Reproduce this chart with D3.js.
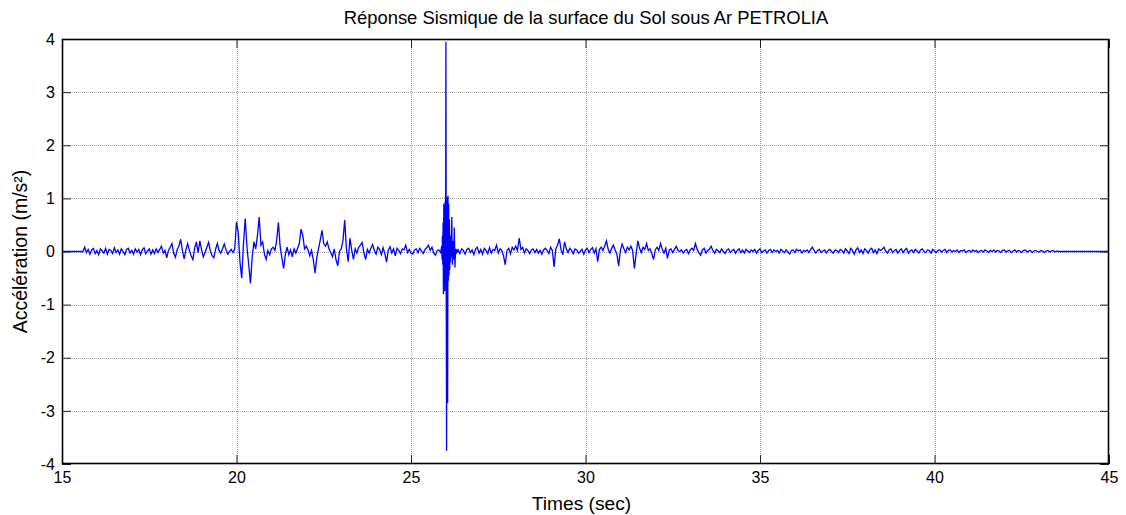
<!DOCTYPE html>
<html>
<head>
<meta charset="utf-8">
<script src="https://cdn.jsdelivr.net/npm/d3@7/dist/d3.min.js"></script>
<style>
  html, body { margin: 0; padding: 0; background: #fff; }
  svg { display: block; font-family: "Liberation Sans", Arial, sans-serif; }
</style>
</head>
<body>
<svg id="chart" width="1126" height="515"></svg>
<script>
// Ground-surface acceleration record (m/s²)
const timeDomain = [15, 45];
const accelDomain = [-4, 4];
const timeTicks = [15, 20, 25, 30, 35, 40, 45];
const accelTicks = [-4, -3, -2, -1, 0, 1, 2, 3, 4];

// record before the main pulse: starts at 15.60 s, step 0.05 s
const preStart = 15.6, preStep = 0.05;
const accelPre = [
  0.00, 0.08, -0.02, 0.04, -0.05, 0.03, 0.06, -0.04, 0.02, -0.06, 0.05, 0.01, -0.03, 0.06, -0.05, 0.04, 0.02, -0.04, 0.07, -0.02,
  0.03, -0.05, 0.05, 0.00, -0.06, 0.04, 0.06, -0.03, 0.02, -0.05, 0.05, -0.01, 0.04, -0.06, 0.03, 0.07, -0.04, 0.01, 0.05, -0.05,
  0.03, -0.04, 0.05, -0.02, 0.04, 0.10, -0.03, 0.02, -0.12, 0.02, 0.08, 0.15, -0.03, -0.11, 0.04, 0.10, 0.23, 0.02, -0.14, 0.03,
  0.15, 0.02, -0.08, -0.15, 0.06, 0.18, -0.02, 0.20, 0.03, -0.10, -0.02, 0.08, 0.17, 0.01, -0.08, -0.12, 0.04, 0.15, 0.02, -0.03,
  0.05, 0.14, 0.03, -0.05, 0.00, 0.04, -0.02, 0.05, 0.56, 0.35, -0.20, -0.50, 0.15, 0.62, 0.08, -0.25, -0.60, -0.10, 0.18, 0.05,
  0.30, 0.65, 0.12, 0.18, -0.05, -0.15, 0.02, -0.06, 0.05, 0.08, 0.02, 0.20, 0.55, 0.10, -0.12, -0.32, -0.05, 0.08, -0.06, 0.03,
  -0.10, 0.05, -0.03, 0.06, 0.15, 0.42, 0.30, 0.05, 0.10, 0.03, -0.08, 0.02, -0.15, -0.41, -0.12, 0.05, 0.22, 0.40, 0.15, 0.10,
  0.18, 0.05, -0.02, -0.10, 0.05, -0.15, -0.27, 0.00, 0.05, 0.20, 0.59, 0.05, -0.19, 0.25, 0.03, -0.15, 0.05, -0.03, 0.08, 0.12,
  0.17, -0.02, -0.15, 0.04, -0.03, 0.06, 0.13, 0.02, -0.05, 0.08, 0.04, -0.06, 0.07, -0.04, -0.20, 0.03, 0.09, -0.03, 0.05, -0.08,
  0.06, 0.02, -0.04, 0.05, 0.03, 0.12, -0.02, 0.04, -0.03, -0.05, 0.03, 0.05, -0.02, 0.06, 0.01, -0.04, 0.04, 0.07, 0.12, 0.02,
  0.08, -0.03, -0.07, 0.02, 0.03, -0.02
];

// main pulse: starts at 25.88 s, step 0.01 s
const burstStart = 25.88, burstStep = 0.01;
const accelBurst = [
  0.10, -0.15, 0.30, -0.25, 0.55, -0.80, 0.90, -0.60, 0.85, -0.75,
  0.95, -0.50, 3.95, -0.80, -3.75, 1.02, -0.70, -2.85, 1.05, -0.55,
  0.90, -0.45, 0.60, -0.35, 0.30, -0.20, 0.15, -0.10, 0.35, 0.65,
  -0.10, -0.25, 0.20, 0.10, -0.15, -0.05, 0.45, 0.10, -0.30, -0.10,
  0.05, -0.05, 0.03, 0.00, 0.04, -0.02, 0.02
];

// coda after the pulse: starts at 26.35 s, step 0.05 s
const postStart = 26.35, postStep = 0.05;
const accelPost = [
  0.03, -0.04, 0.05, 0.02, -0.05, 0.04, 0.06, -0.02, 0.03, -0.06, 0.05, 0.08, -0.03, 0.04, -0.05, 0.06, 0.02, -0.04, 0.07, -0.03,
  0.04, 0.02, 0.12, -0.03, 0.05, 0.02, -0.08, -0.25, 0.02, 0.06, -0.04, 0.08, 0.03, 0.10, 0.02, 0.25, 0.04, 0.08, -0.03, 0.05,
  0.02, -0.04, 0.03, 0.05, -0.02, 0.04, -0.03, 0.02, -0.05, 0.03, 0.06, 0.02, -0.04, 0.08, 0.02, -0.29, 0.05, 0.12, 0.24, 0.03,
  -0.06, 0.18, 0.05, -0.02, 0.06, 0.02, -0.04, 0.05, 0.03, -0.03, 0.00, 0.04, -0.05, 0.03, 0.06, -0.02, 0.04, 0.07, -0.03, 0.05,
  -0.19, 0.04, 0.08, 0.02, 0.10, 0.20, 0.04, -0.03, 0.06, 0.12, 0.03, -0.05, -0.27, 0.02, 0.14, 0.05, -0.02, 0.08, 0.03, 0.10,
  0.02, -0.32, -0.05, 0.20, 0.06, -0.02, 0.08, 0.04, 0.15, 0.02, 0.05, -0.04, -0.15, 0.03, 0.08, 0.02, 0.15, 0.04, -0.03, 0.06,
  -0.13, 0.03, 0.05, -0.02, 0.04, 0.10, 0.02, 0.00, 0.03, -0.03, 0.02, 0.04, -0.04, 0.03, 0.06, 0.02, 0.15, 0.04, -0.02, -0.07,
  0.03, 0.06, -0.03, 0.02, 0.04, 0.10, 0.02, -0.03, 0.04, 0.01, -0.02, 0.05, 0.00, -0.04, 0.03, 0.05, -0.02, 0.02, 0.04, -0.03,
  0.02, 0.05, -0.02, 0.03, -0.03, 0.04, 0.01, -0.02, 0.03, 0.00, 0.04, -0.03, 0.02, 0.05, -0.02, 0.01, 0.03, -0.03, 0.02, 0.04,
  -0.02, 0.03, 0.00, 0.02, -0.03, 0.04, 0.01, -0.02, 0.03, -0.01, -0.05, 0.02, 0.03, -0.02, 0.04, 0.01, 0.03, -0.03, 0.02, 0.00,
  0.03, -0.02, 0.04, 0.08, 0.02, -0.03, 0.02, 0.04, -0.02, 0.01, 0.03, -0.03, 0.02, 0.04, 0.00, -0.03, 0.03, 0.02, -0.02, 0.04,
  0.02, -0.03, 0.05, 0.01, -0.04, 0.06, 0.02, -0.05, 0.03, 0.07, -0.02, 0.03, -0.04, 0.05, 0.02, -0.03, 0.04, 0.06, -0.02, 0.03,
  -0.04, 0.05, 0.02, 0.04, 0.08, 0.01, -0.03, 0.03, 0.05, -0.02, 0.02, 0.04, -0.03, 0.02, 0.05, -0.02, 0.03, 0.06, -0.03, 0.01,
  0.03, -0.02, 0.04, 0.01, -0.03, 0.03, 0.05, 0.00, -0.02, 0.03, 0.02, -0.03, 0.04, 0.01, -0.02, 0.02, 0.03, -0.01, 0.02, 0.04,
  -0.02, 0.02, 0.03, -0.01, 0.02, 0.00, 0.03, -0.02, 0.02, 0.01, 0.03, -0.02, 0.01, 0.02, -0.01, 0.03, 0.00, 0.02, -0.02, 0.01,
  0.02, -0.01, 0.03, 0.01, -0.02, 0.02, 0.00, 0.03, -0.01, 0.02, 0.01, -0.02, 0.02, 0.03, -0.01, 0.01, 0.02, -0.02, 0.01, 0.03,
  -0.01, 0.02, 0.01, -0.02, 0.02, 0.03, -0.01, 0.01, 0.02, -0.02, 0.01, 0.02, 0.00, -0.01, 0.02, 0.01, -0.02, 0.01, 0.02, -0.01,
  0.01, 0.02, -0.01, 0.01, 0.00
];

const titleText = "Réponse Sismique de la surface du Sol sous Ar PETROLIA";
const xLabelText = "Times (sec)";
const yLabelText = "Accélération (m/s²)";

// assemble (time, acceleration) samples
const toPoints = (start, step, vals) => vals.map((a, i) => ({ t: start + i * step, a }));
const samples = [{ t: timeDomain[0], a: 0 }]
  .concat(toPoints(preStart, preStep, accelPre))
  .concat(toPoints(burstStart, burstStep, accelBurst))
  .concat(toPoints(postStart, postStep, accelPost));
const lastT = samples[samples.length - 1].t;
samples.push({ t: lastT + postStep, a: 0 }, { t: timeDomain[1], a: 0 });

// plot geometry
const box = { left: 62, right: 1109, top: 39, bottom: 464 };
const svg = d3.select("#chart");
const x = d3.scaleLinear().domain(timeDomain).range([box.left, box.right]);
const y = d3.scaleLinear().domain(accelDomain).range([box.bottom, box.top]);
const W = box.right - box.left, H = box.bottom - box.top;
const tickLen = 9;

// dotted grid
const grid = svg.append("g").attr("stroke", "#a0a0a0").attr("stroke-width", 1)
  .attr("stroke-dasharray", "1,1").attr("shape-rendering", "crispEdges");
grid.selectAll(".gx").data(timeTicks.slice(1, -1)).join("line")
  .attr("x1", d => Math.round(x(d)) + 0.5).attr("x2", d => Math.round(x(d)) + 0.5)
  .attr("y1", box.top).attr("y2", box.bottom);
grid.selectAll(".gy").data(accelTicks.slice(1, -1)).join("line")
  .attr("y1", d => Math.round(y(d)) + 0.5).attr("y2", d => Math.round(y(d)) + 0.5)
  .attr("x1", box.left).attr("x2", box.right);

// signal
const line = d3.line().x(d => x(d.t)).y(d => y(d.a));
svg.append("path").datum(samples)
  .attr("fill", "none").attr("stroke", "#0000ff").attr("stroke-width", 1.3)
  .attr("stroke-linejoin", "miter").attr("d", line);

// axes with inward ticks on all four sides
const fmt = d => String(d);
const axB = svg.append("g").attr("transform", `translate(0,${box.bottom})`)
  .call(d3.axisBottom(x).tickValues(timeTicks).tickFormat(fmt).tickSizeInner(-tickLen).tickSizeOuter(0).tickPadding(8));
const axT = svg.append("g").attr("transform", `translate(0,${box.top})`)
  .call(d3.axisTop(x).tickValues(timeTicks).tickFormat("").tickSizeInner(-tickLen).tickSizeOuter(0));
const axL = svg.append("g").attr("transform", `translate(${box.left},0)`)
  .call(d3.axisLeft(y).tickValues(accelTicks).tickFormat(fmt).tickSizeInner(-tickLen).tickSizeOuter(0).tickPadding(7));
const axR = svg.append("g").attr("transform", `translate(${box.right},0)`)
  .call(d3.axisRight(y).tickValues(accelTicks).tickFormat("").tickSizeInner(-tickLen).tickSizeOuter(0));

[axB, axT, axL, axR].forEach(g => {
  g.select(".domain").remove();
  g.selectAll(".tick line").attr("stroke", "#222").attr("stroke-width", 1);
  g.selectAll(".tick text").attr("font-size", 16).attr("fill", "#000")
    .attr("font-family", "'Liberation Sans', Arial, sans-serif");
});

// frame
svg.append("rect").attr("x", box.left + 0.5).attr("y", box.top + 0.5)
  .attr("width", W - 1).attr("height", H - 1)
  .attr("fill", "none").attr("stroke", "#000").attr("stroke-width", 1.6);

// labels
svg.append("text").attr("x", (box.left + box.right) / 2 + 0.5).attr("y", 24)
  .attr("text-anchor", "middle").attr("font-size", 18.4).text(titleText);
svg.append("text").attr("x", (box.left + box.right) / 2 - 4).attr("y", 510)
  .attr("text-anchor", "middle").attr("font-size", 19.2).text(xLabelText);
svg.append("text").attr("transform", `translate(27,${(box.top + box.bottom) / 2}) rotate(-90)`)
  .attr("text-anchor", "middle").attr("font-size", 19.5).text(yLabelText);
</script>
</body>
</html>
